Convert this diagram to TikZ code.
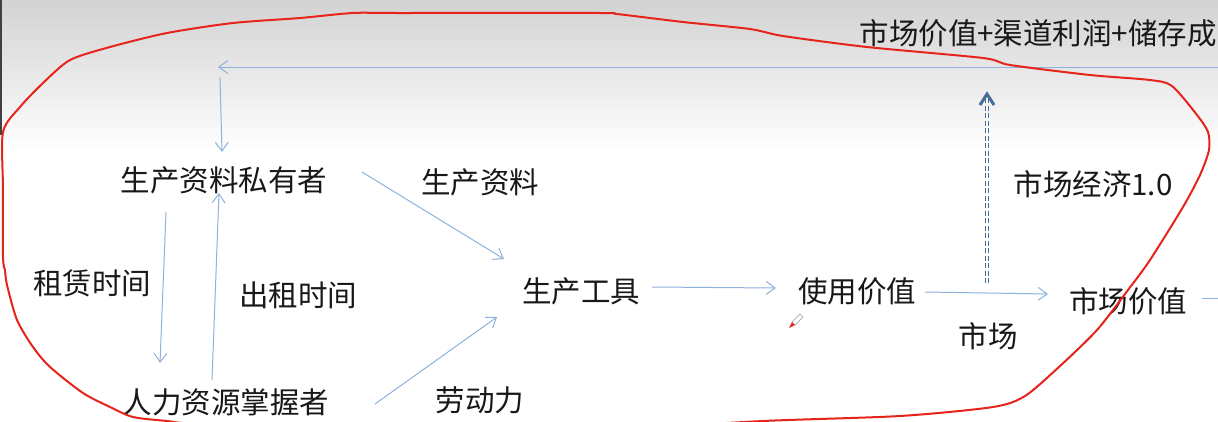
\documentclass[tikz,border=0pt]{standalone}
\usepackage{fontspec}
\usetikzlibrary{arrows.meta,calc}
\newfontfamily\cjk{Noto Sans CJK SC}
\definecolor{flowblue}{RGB}{141,178,222}
\definecolor{dashblue}{RGB}{70,108,152}
\definecolor{penred}{RGB}{230,36,28}
\definecolor{inktext}{RGB}{24,24,24}
\tikzset{
  label text/.style={font=\cjk\fontsize{29.5}{30}\selectfont, text=inktext, inner sep=0pt},
  flow/.style={draw=flowblue, line width=1pt, -{Straight Barb[length=9pt,width=13pt,line width=1pt]}},
  flowline/.style={draw=flowblue, line width=1pt},
  outline/.style={draw=penred, line width=2pt, line join=round},
}
\begin{document}
\begin{tikzpicture}[x=1pt,y=-1pt]
  \clip (0,0) rectangle (1218,421);
  % slide background: light grey band fading to white
  \fill[white] (0,0) rectangle (1218,421);
  \shade[top color={rgb,255:red,210;green,210;blue,210}, bottom color=white]
    (0,0) rectangle (1218,150);
  \fill[black!75] (0,0) rectangle (2,135);

  % text nodes
  \node[label text] (owner) at (224,180) {生产资料私有者};
  \node[label text] (means) at (480,182) {生产资料};
  \node[label text] (rent)  at (92,283)  {租赁时间};
  \node[label text] (lease) at (298,295) {出租时间};
  \node[label text] (tool)  at (581,291) {生产工具};
  \node[label text] (use)   at (857,291) {使用价值};
  \node[label text] (mval)  at (1128,301) {市场价值};
  \node[label text] (mkt)   at (988,336) {市场};
  \node[label text] (econ)  at (1093,184) {市场经济1.0};
  \node[label text] (labor) at (226,402) {人力资源掌握者};
  \node[label text] (force) at (480,400) {劳动力};
  \node[label text, anchor=east] (sum) at (1217,33) {市场价值+渠道利润+储存成};

  % connector end points
  \coordinate (ownerOutL) at (166,212);
  \coordinate (laborInL)  at (160,363);
  \coordinate (laborOutR) at (212,380);
  \coordinate (ownerInR)  at (219,193);
  \coordinate (ownerOutE) at (362,172);
  \coordinate (toolInN)   at (504,259);
  \coordinate (laborOutE) at (375,404);
  \coordinate (toolInS)   at (497,317);
  \coordinate (toolOut)   at (652,287);
  \coordinate (useIn)     at (776,288);
  \coordinate (useOut)    at (925,292);
  \coordinate (mvalIn)    at (1048,294);
  \coordinate (mvalOut)   at (1202,298);
  \coordinate (edgeR)     at (1220,298);
  \coordinate (topR)      at (1220,67);
  \coordinate (topL)      at (218,67);
  \coordinate (ownerTop)  at (220,77);
  \coordinate (ownerIn)   at (222,152);
  \coordinate (mktFoot)   at (987,283);
  \coordinate (mktTip)    at (987,94);

  % flows between the parties
  \draw[flow] (ownerOutL) -- (laborInL);
  \draw[flow] (laborOutR) -- (ownerInR);
  \draw[flow] (ownerOutE) -- (toolInN);
  \draw[flow] (laborOutE) -- (toolInS);
  \draw[flow] (toolOut) -- (useIn);
  \draw[flow] (useOut) -- (mvalIn);
  \draw[flowline] (mvalOut) -- (edgeR);
  \draw[flow] (topR) -- (topL);
  \draw[flow] (ownerTop) -- (ownerIn);

  % market economy 1.0: dashed double arrow upwards
  \draw[dashblue, line width=1.1pt, double=white, double distance=1.4pt,
        dash pattern=on 5pt off 2.5pt] (mktFoot) -- ($(mktTip)+(0,5)$);
  \draw[dashblue, line width=3pt, line join=miter]
    ($(mktTip)+(-7,11)$) -- (mktTip) -- ($(mktTip)+(7,11)$);

  % hand-drawn red outline
  \draw[outline] plot[smooth, tension=0.45] coordinates {
    (5,270) (3,257) (3,190) (3,132) (20,107) (43,83) (70,60) (110,47)
    (167,33) (233,23) (300,18) (353,13) (400,13) (600,13) (617,14)
    (683,22) (750,29) (783,36) (867,47) (983,58) (1010,65) (1090,75)
    (1150,80) (1172,86) (1197,115) (1208,132) (1209,150) (1200,175)
    (1183,207) (1150,260) (1128,290) (1097,330) (1060,366) (1025,396)
    (993,407) (900,416) (763,421) (600,430) (400,432) (200,424)
    (167,421) (133,417) (110,407) (83,393) (50,367) (33,347) (17,320)
    (7,285) (5,270)};

  % pen cursor
  \draw[gray!70, line width=0.7pt] (792,322) -- (800,314) (795,325) -- (803,317)
    (800,314) -- (803,317);
  \fill[penred] (789,328) -- (792,322) -- (795,325) -- cycle;
\end{tikzpicture}
\end{document}
